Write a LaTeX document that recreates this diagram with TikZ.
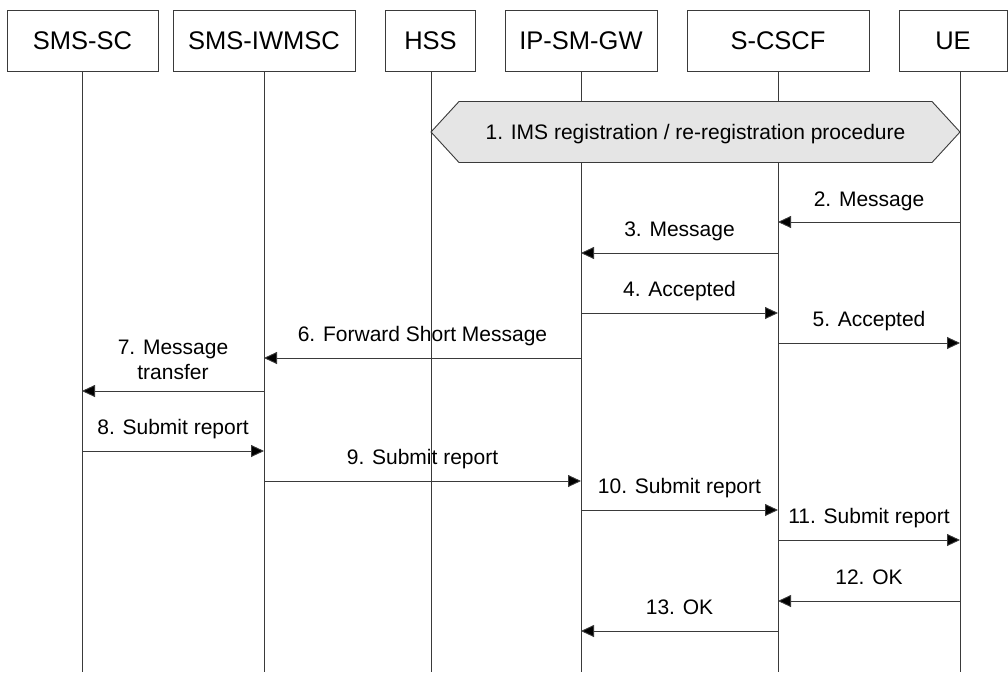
\documentclass[tikz,border=0pt]{standalone}
\usepackage{fontspec}
\setmainfont{Liberation Sans}
\usetikzlibrary{arrows.meta}
\definecolor{lineg}{HTML}{3A3A3A}
\definecolor{hexfill}{HTML}{E5E5E5}
\begin{document}
\begin{tikzpicture}[x=1pt,y=-1pt,
  entity/.style={draw=lineg,line width=0.9pt,minimum height=61pt,inner sep=0pt,
    font=\fontsize{25.5}{30}\selectfont},
  life/.style={draw=lineg,line width=0.9pt},
  msg/.style={draw=lineg,line width=0.9pt,-{Triangle[length=13pt,width=12pt,fill=black]}},
  lbl/.style={anchor=base,inner sep=0pt,font=\fontsize{21}{25}\selectfont},
  hexshape/.style={draw=lineg,line width=0.9pt,fill=hexfill}]
\useasboundingbox (0,0) rectangle (1008,672);
% entity boxes
\node[entity,minimum width=151pt] (smssc) at (82.5,40.5) {SMS-SC};
\node[entity,minimum width=182pt] (iwmsc) at (264,40.5) {SMS-IWMSC};
\node[entity,minimum width=90pt] (hss) at (430.5,40.5) {HSS};
\node[entity,minimum width=152pt] (ipsm) at (581,40.5) {IP-SM-GW};
\node[entity,minimum width=182pt] (cscf) at (778,40.5) {S-CSCF};
\node[entity,minimum width=108pt] (ue) at (953,40.5) {UE};
% lifeline tops and bottoms
\coordinate (t1) at (82,71);  \coordinate (b1) at (82,672);
\coordinate (t2) at (264,71); \coordinate (b2) at (264,672);
\coordinate (t3) at (431,71); \coordinate (b3) at (431,672);
\coordinate (t4) at (581,71); \coordinate (b4) at (581,672);
\coordinate (t5) at (778,71); \coordinate (b5) at (778,672);
\coordinate (t6) at (960,71); \coordinate (b6) at (960,672);
\foreach \i in {1,...,6} {\draw[life] (t\i) -- (b\i);}
% registration hexagon
\path[hexshape] (431,132) -- (459,101.5) -- (932,101.5) -- (960,132) -- (932,162.5) -- (459,162.5) -- cycle;
\node[lbl] (reg) at (695.5,139) {1. IMS registration / re-registration procedure};
% messages
\draw[msg] (t6 |- 0,222) -- (t5 |- 0,222);
\node[lbl] (m2) at (869,206) {2. Message};
\draw[msg] (t5 |- 0,253) -- (t4 |- 0,253);
\node[lbl] (m3) at (679.5,236) {3. Message};
\draw[msg] (t4 |- 0,313) -- (t5 |- 0,313);
\node[lbl] (m4) at (679.5,296) {4. Accepted};
\draw[msg] (t5 |- 0,343) -- (t6 |- 0,343);
\node[lbl] (m5) at (869,326) {5. Accepted};
\draw[msg] (t4 |- 0,358) -- (t2 |- 0,358);
\node[lbl] (m6) at (422.5,341) {6. Forward Short Message};
\draw[msg] (t2 |- 0,391) -- (t1 |- 0,391);
\node[lbl] (m7a) at (173,354) {7. Message};
\node[lbl] (m7b) at (173,379) {transfer};
\draw[msg] (t1 |- 0,451) -- (t2 |- 0,451);
\node[lbl] (m8) at (173,434) {8. Submit report};
\draw[msg] (t2 |- 0,481) -- (t4 |- 0,481);
\node[lbl] (m9) at (422.5,464) {9. Submit report};
\draw[msg] (t4 |- 0,510) -- (t5 |- 0,510);
\node[lbl] (m10) at (679.5,493) {10. Submit report};
\draw[msg] (t5 |- 0,540) -- (t6 |- 0,540);
\node[lbl] (m11) at (869,523) {11. Submit report};
\draw[msg] (t6 |- 0,601) -- (t5 |- 0,601);
\node[lbl] (m12) at (869,584) {12. OK};
\draw[msg] (t5 |- 0,631) -- (t4 |- 0,631);
\node[lbl] (m13) at (679.5,614) {13. OK};
\end{tikzpicture}
\end{document}
